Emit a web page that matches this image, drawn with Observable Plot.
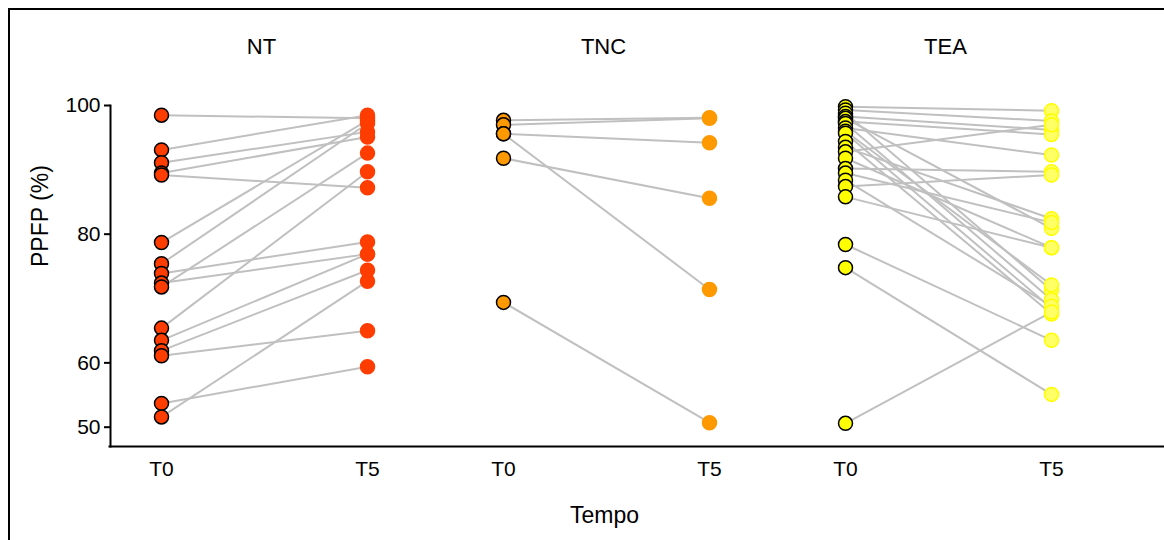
<!DOCTYPE html>
<html>
<head>
<meta charset="utf-8">
<script src="https://cdn.jsdelivr.net/npm/d3@7"></script>
<script src="https://cdn.jsdelivr.net/npm/@observablehq/plot@0.6"></script>
<style>
  body { margin: 0; background: #fff; }
  #wrap { position: relative; width: 1164px; height: 540px; overflow: hidden; }
  #border { position: absolute; left: 8px; top: 8px; width: 2000px; height: 2000px; border: 2px solid #000; pointer-events: none; }
</style>
</head>
<body>
<div id="wrap"><div id="border"></div></div>
<script>
// ---- data ----
const groups = ["NT", "TNC", "TEA"];
const times = ["T0", "T5"];
const yTicks = [50, 60, 80, 100];
const yLabel = "PPFP (%)";
const xLabel = "Tempo";

const ntT0 = [98.5, 93.1, 91.1, 89.5, 89.2, 78.7, 75.4, 73.9, 72.4, 71.8, 65.4, 63.5, 61.9, 61.1, 53.7, 51.6];
const ntT5 = [98.0, 98.5, 95.9, 95.1, 87.2, 97.7, 97.2, 78.8, 76.9, 92.6, 89.7, 76.9, 74.4, 65.0, 59.4, 72.7];

const tncT0 = [97.7, 97.0, 95.6, 95.6, 91.8, 69.4];
const tncT5 = [98.1, 98.0, 94.2, 71.4, 85.6, 50.7];

const teaT0 = [99.8, 99.3, 98.8, 98.3, 98.0, 97.5, 97.2, 96.5, 96.0, 95.7, 94.4, 93.5, 92.8, 91.8, 90.2, 89.5, 88.4, 87.4, 85.8, 78.4, 74.8, 50.6];
const teaT5 = [99.2, 97.6, 71.3, 96.2, 80.9, 95.5, 69.8, 92.3, 72.1, 68.5, 67.6, 82.4, 97.0, 77.9, 89.7, 81.8, 68.8, 89.2, 77.9, 63.5, 55.1, 67.9];

// ---- styles ----
const fillT0 = {NT: "#ff3d00", TNC: "#ff9900", TEA: "#ffff00"};
const fillT5 = {NT: "#ff3d00", TNC: "#ff9900", TEA: "#ffff66"};
const strokeT5 = {NT: "#ff3d00", TNC: "#ff9900", TEA: "#ffff00"};

const series = {NT: [ntT0, ntT5], TNC: [tncT0, tncT5], TEA: [teaT0, teaT5]};
const rows = [];
for (const g of groups) {
  const [a, b] = series[g];
  a.forEach((v, i) => {
    rows.push({group: g, id: g + i, time: times[0], value: v});
    rows.push({group: g, id: g + i, time: times[1], value: b[i]});
  });
}
const rowsT0 = rows.filter(d => d.time === times[0]);
const rowsT5 = rows.filter(d => d.time === times[1]);

const chart = Plot.plot({
  width: 1164,
  height: 540,
  marginLeft: 110,
  marginRight: 28,
  marginTop: 105,
  marginBottom: 94,
  style: {fontFamily: "'Liberation Sans', Arial, sans-serif", fontSize: "21px", background: "transparent", color: "#000"},
  fx: {domain: groups, paddingInner: 0, paddingOuter: 0},
  x: {type: "point", domain: times, padding: 0, insetLeft: 51, insetRight: 85},
  y: {domain: [47, 100]},
  color: {type: "identity"},
  marks: [
    Plot.frame({anchor: "left", facetAnchor: "left", strokeWidth: 2}),
    Plot.frame({anchor: "bottom", facet: "super", strokeWidth: 2, insetRight: -28, insetLeft: -1}),
    Plot.axisY({ticks: yTicks, tickSize: 6, tickPadding: 4, fontSize: 21, strokeWidth: 2, label: null}),
    Plot.text([yLabel], {frameAnchor: "left", facetAnchor: "left", rotate: -90, dx: -70, dy: -9, fontSize: 23}),
    Plot.axisX({tickSize: 0, tickPadding: 15, fontSize: 21, label: null}),
    Plot.axisFx({anchor: "top", tickSize: 0, tickPadding: 52, fontSize: 22, label: null, dx: -20}),
    Plot.line(rows, {fx: "group", x: "time", y: "value", z: "id", stroke: "#c0c0c0", strokeWidth: 2}),
    Plot.dot(rowsT0, {fx: "group", x: "time", y: "value", r: 7, fill: d => fillT0[d.group], stroke: "#000", strokeWidth: 1.5}),
    Plot.dot(rowsT5, {fx: "group", x: "time", y: "value", r: 7, fill: d => fillT5[d.group], stroke: d => strokeT5[d.group], strokeWidth: 1.5}),
    Plot.text([xLabel], {frameAnchor: "bottom", facet: "super", dy: 76, dx: -19, fontSize: 23})
  ]
});
document.getElementById("wrap").prepend(chart);
</script>
</body>
</html>
